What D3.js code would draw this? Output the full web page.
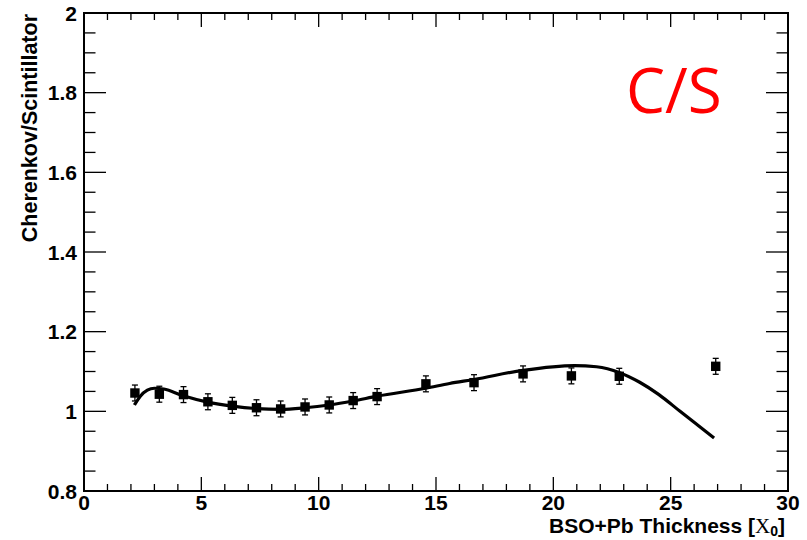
<!DOCTYPE html>
<html>
<head>
<meta charset="utf-8">
<script src="https://cdn.jsdelivr.net/npm/d3@7"></script>
<style>
  html, body { margin: 0; padding: 0; background: #fff; }
  svg { display: block; }
</style>
</head>
<body>
<svg id="chart" width="807" height="540"></svg>
<script>
// ---- data ----
const thickness = [2.17, 3.21, 4.24, 5.28, 6.32, 7.35, 8.38, 9.42, 10.45, 11.47, 12.49, 14.57, 16.62, 18.71, 20.77, 22.81, 26.92];
const ratio     = [1.046, 1.043, 1.042, 1.024, 1.015, 1.009, 1.006, 1.011, 1.016, 1.027, 1.037, 1.069, 1.072, 1.094, 1.089, 1.088, 1.113];
const ratioErr  = [0.02, 0.02, 0.02, 0.02, 0.02, 0.02, 0.02, 0.02, 0.02, 0.02, 0.02, 0.02, 0.02, 0.02, 0.02, 0.02, 0.02];

const fitX = [2.15, 2.4, 2.7, 3.0, 3.4, 4.23, 5.27, 6.32, 7.35, 8.4, 9.42, 10.45, 11.47, 12.49, 14.57, 15.58, 16.62, 18.71, 20.9, 21.84, 22.83, 23.68, 24.5, 25.4, 26.2, 26.85];
const fitY = [1.016, 1.038, 1.053, 1.058, 1.056, 1.039, 1.023, 1.013, 1.007, 1.005, 1.009, 1.016, 1.026, 1.038, 1.058, 1.070, 1.080, 1.103, 1.115, 1.112, 1.097, 1.073, 1.042, 1.000, 0.963, 0.933];

const xTicks = [0, 5, 10, 15, 20, 25, 30];
const yTicks = [0.8, 1, 1.2, 1.4, 1.6, 1.8, 2];
const xTitle = "BSO+Pb Thickness [";
const yTitle = "Cherenkov/Scintillator";
const label = "C/S";

// ---- layout ----
const svg = d3.select("#chart");
const L = 84, R = 788, T = 13, B = 491;
const x = d3.scaleLinear().domain([0, 30]).range([L, R]);
const y = d3.scaleLinear().domain([0.8, 2]).range([B, T]);
const font = "'Liberation Sans', Arial, Helvetica, sans-serif";

// ticks
const xMinor = d3.range(0, 30.001, 1);
const yMinor = d3.range(0.8, 2.0001, 0.05);
const tickG = svg.append("g").attr("stroke", "#000").attr("stroke-width", 1.3);
xMinor.forEach(v => {
  const major = xTicks.some(t => Math.abs(t - v) < 1e-6);
  const len = major ? 14 : 7;
  tickG.append("line").attr("x1", x(v)).attr("x2", x(v)).attr("y1", B).attr("y2", B - len);
  tickG.append("line").attr("x1", x(v)).attr("x2", x(v)).attr("y1", T).attr("y2", T + len);
});
yMinor.forEach(v => {
  const major = yTicks.some(t => Math.abs(t - v) < 1e-6);
  const len = major ? 22 : 11.5;
  tickG.append("line").attr("y1", y(v)).attr("y2", y(v)).attr("x1", L).attr("x2", L + len);
  tickG.append("line").attr("y1", y(v)).attr("y2", y(v)).attr("x1", R).attr("x2", R - len);
});

// frame
svg.append("rect").attr("x", L).attr("y", T).attr("width", R - L).attr("height", B - T)
  .attr("fill", "none").attr("stroke", "#000").attr("stroke-width", 2);

// tick labels
svg.append("g").selectAll("text").data(xTicks).join("text")
  .attr("x", d => x(d)).attr("y", 510)
  .attr("text-anchor", "middle")
  .attr("font-family", font).attr("font-weight", "bold").attr("font-size", 21)
  .text(d => d3.format("d")(d));
svg.append("g").selectAll("text").data(yTicks).join("text")
  .attr("x", 77).attr("y", d => y(d) + 7.5)
  .attr("text-anchor", "end")
  .attr("font-family", font).attr("font-weight", "bold").attr("font-size", 21)
  .text(d => (d === 1 || d === 2) ? d3.format("d")(d) : d3.format(".1f")(d));

// axis titles
const xt = svg.append("text").attr("x", 785).attr("y", 533)
  .attr("text-anchor", "end")
  .attr("font-family", font).attr("font-weight", "bold").attr("font-size", 21);
xt.append("tspan").text(xTitle);
xt.append("tspan").attr("font-family", "'Liberation Serif', 'Times New Roman', serif").attr("font-weight", "normal").text("X");
xt.append("tspan").attr("font-size", 14).attr("dy", 3).text("0");
xt.append("tspan").attr("dy", -3).text("]");

svg.append("text")
  .attr("transform", `translate(37, 14) rotate(-90)`)
  .attr("text-anchor", "end")
  .attr("font-family", font).attr("font-weight", "bold").attr("font-size", 21.5)
  .text(yTitle);

// fit curve
const fitData = fitX.map((v, i) => [v, fitY[i]]);
svg.append("path")
  .datum(fitData)
  .attr("fill", "none").attr("stroke", "#000").attr("stroke-width", 3.2)
  .attr("stroke-linejoin", "round")
  .attr("d", d3.line().x(d => x(d[0])).y(d => y(d[1])).curve(d3.curveMonotoneX));

// data points with error bars
const pts = thickness.map((v, i) => ({ x: v, y: ratio[i], e: ratioErr[i] }));
const pg = svg.append("g");
pts.forEach(p => {
  const cx = x(p.x), cy = y(p.y), yt = y(p.y + p.e), yb = y(p.y - p.e);
  pg.append("line").attr("x1", cx).attr("x2", cx).attr("y1", yt).attr("y2", yb).attr("stroke", "#000").attr("stroke-width", 1.3);
  pg.append("line").attr("x1", cx - 3).attr("x2", cx + 3).attr("y1", yt).attr("y2", yt).attr("stroke", "#000").attr("stroke-width", 1.3);
  pg.append("line").attr("x1", cx - 3).attr("x2", cx + 3).attr("y1", yb).attr("y2", yb).attr("stroke", "#000").attr("stroke-width", 1.3);
  pg.append("rect").attr("x", cx - 4.7).attr("y", cy - 4.7).attr("width", 9.4).attr("height", 9.4).attr("fill", "#000");
});

// label
svg.append("text").attr("x", 626).attr("y", 113)
  .attr("font-family", "'Open Sans', 'DejaVu Sans', sans-serif").attr("font-size", 62)
  .attr("fill", "#ff0000")
  .text(label);
</script>
</body>
</html>
